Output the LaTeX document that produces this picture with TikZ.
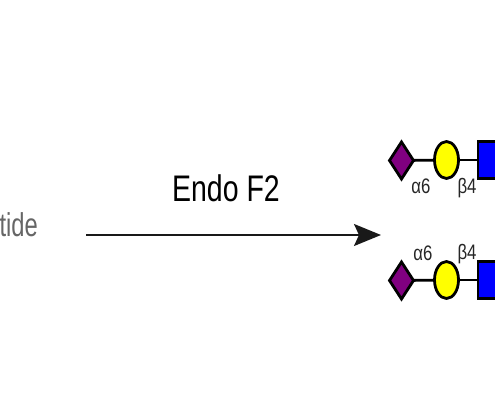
\documentclass[tikz,border=0pt]{standalone}
\usepackage{fontspec}
\setmainfont{Liberation Sans}
\usetikzlibrary{shapes.geometric,arrows.meta}
\definecolor{gpurple}{RGB}{128,0,128}
\definecolor{gyellow}{RGB}{255,255,0}
\definecolor{gblue}{RGB}{0,0,255}
\tikzset{
  x=1pt,y=1pt,
  sugar/.style={draw=black,line width=2.8pt,inner sep=0pt,outer sep=0pt},
  neu/.style={sugar,fill=gpurple,diamond,minimum width=24pt,minimum height=37pt},
  gal/.style={sugar,fill=gyellow,ellipse,minimum width=24pt,minimum height=37pt},
  glc/.style={sugar,fill=gblue,rectangle,minimum width=36pt,minimum height=37pt},
  bond/.style={draw=black,line width=2.8pt},
  linklabel/.style={inner sep=0pt,font=\fontsize{21}{21}\selectfont,xscale=.8,transform shape,text=black!85},
  bigtext/.style={inner sep=0pt,font=\fontsize{37}{37}\selectfont,xscale=.77,transform shape},
  sidetext/.style={inner sep=0pt,font=\fontsize{33}{33}\selectfont,xscale=.72,transform shape,text=black!60},
  arrowline/.style={draw=black!90,line width=2pt,-{Stealth[length=27pt,width=22pt,inset=5pt]}}
}
\begin{document}
\begin{tikzpicture}
\useasboundingbox (0,0) rectangle (495,400);
\clip (0,0) rectangle (495,400);
\fill[white] (0,0) rectangle (495,400);
\node[sidetext,anchor=base east] (pep) at (38,164) {tide};
\node[bigtext,anchor=base] (enzyme) at (226,199) {Endo F2};
\coordinate (from) at (86,165);
\coordinate (to) at (381,165);
\draw[arrowline] (from) -- (to);
% top chain
\node[glc] (s1) at (496,240) {};
\node[gal] (g1) at (446.5,240) {};
\node[neu] (n1) at (401.5,239.5) {};
\draw[bond] (n1) -- (g1);
\draw[bond] (g1) -- (s1);
\node[linklabel] (a1) at (421,214) {α6};
\node[linklabel] (b1) at (467,212) {β4};
% bottom chain
\node[glc] (s2) at (496,120) {};
\node[gal] (g2) at (446.5,120) {};
\node[neu] (n2) at (401.5,119.5) {};
\draw[bond] (n2) -- (g2);
\draw[bond] (g2) -- (s2);
\node[linklabel] (a2) at (423,147) {α6};
\node[linklabel] (b2) at (467,146) {β4};
\end{tikzpicture}
\end{document}
